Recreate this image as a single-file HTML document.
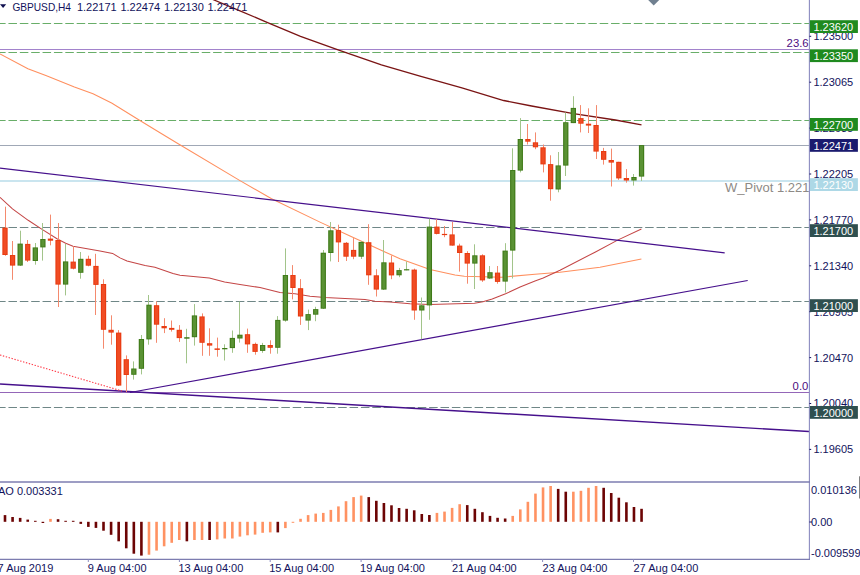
<!DOCTYPE html>
<html><head><meta charset="utf-8"><style>
html,body{margin:0;padding:0;background:#fff;width:860px;height:575px;overflow:hidden}
svg{display:block;font-family:"Liberation Sans",sans-serif}
</style></head><body>
<svg width="860" height="575" viewBox="0 0 860 575">
<rect width="860" height="575" fill="#fff"/>
<line x1="0" y1="23.5" x2="809" y2="23.5" stroke="#68ae68" stroke-width="1" stroke-dasharray="8.53 2.84" stroke-dashoffset="2.92"/>
<line x1="0" y1="52.5" x2="809" y2="52.5" stroke="#68ae68" stroke-width="1" stroke-dasharray="8.53 2.84" stroke-dashoffset="2.92"/>
<line x1="0" y1="120.5" x2="809" y2="120.5" stroke="#68ae68" stroke-width="1" stroke-dasharray="8.53 2.84" stroke-dashoffset="2.92"/>
<line x1="0" y1="49.5" x2="809" y2="49.5" stroke="#a283cc" stroke-width="1"/>
<line x1="0" y1="145.5" x2="809" y2="145.5" stroke="#a0a8b6" stroke-width="1"/>
<line x1="0" y1="181" x2="809" y2="181" stroke="#b9dcea" stroke-width="1.3"/>
<line x1="0" y1="227.5" x2="809" y2="227.5" stroke="#6f8787" stroke-width="1" stroke-dasharray="8.53 2.84" stroke-dashoffset="2.92"/>
<line x1="0" y1="301.5" x2="809" y2="301.5" stroke="#6f8787" stroke-width="1" stroke-dasharray="8.53 2.84" stroke-dashoffset="2.92"/>
<line x1="0" y1="407.5" x2="809" y2="407.5" stroke="#6f8787" stroke-width="1" stroke-dasharray="8.53 2.84" stroke-dashoffset="2.92"/>
<line x1="0" y1="392.5" x2="809" y2="392.5" stroke="#9466b8" stroke-width="1"/>
<text x="786.6" y="47" font-size="11.3" fill="#4c0c80">23.6</text>
<text x="792.6" y="390.3" font-size="11.3" fill="#4c0c80">0.0</text>
<text x="725" y="191.5" font-size="13" fill="#8e8a86">W_Pivot 1.22130</text>
<polyline points="0.0,53.9 27.9,68.8 46.5,75.7 74.4,86.9 93.0,93.7 111.6,103.0 139.5,120.3 160.0,132.8 178.6,144.0 240.0,180.6 271.6,198.8 320.0,222.1 350.0,236.0 385.0,252.0 400.0,258.7 430.0,269.6 455.0,274.9 464.3,276.3 501.5,277.2 535.0,274.2 560.0,272.3 600.0,267.2 641.4,259.1" fill="none" stroke="#ff8f5e" stroke-width="1.05"/>
<polyline points="0.0,197.3 12.5,208.8 28.2,220.3 41.7,229.1 57.4,239.0 65.7,243.2 73.0,246.2 100.0,251.1 112.6,253.4 120.0,257.9 127.0,260.9 145.1,265.4 154.9,267.2 173.0,273.5 180.0,275.2 206.5,277.7 209.3,278.0 224.6,282.1 240.0,284.4 260.0,287.6 280.0,292.5 295.0,293.8 310.0,296.3 325.0,297.6 350.0,298.7 365.0,299.4 375.0,301.2 390.0,302.0 410.0,303.8 430.0,304.5 474.5,303.2 482.9,301.8 492.2,299.1 506.2,293.5 520.1,287.0 535.0,280.9 543.2,278.1 560.0,270.2 595.0,252.2 617.6,240.1 641.4,229.0" fill="none" stroke="#c44646" stroke-width="1.05"/>
<polyline points="211.0,-1.5 214.0,0.0 240.0,10.8 267.0,22.3 300.5,36.3 339.5,50.3 381.4,64.8 420.0,76.2 461.9,87.9 503.7,100.5 531.6,106.0 573.5,113.6 615.4,120.0 641.5,124.8" fill="none" stroke="#7a1414" stroke-width="1.3"/>
<line x1="0" y1="168.1" x2="724.7" y2="252.8" stroke="#46108c" stroke-width="1.2"/>
<line x1="130" y1="392.5" x2="747.7" y2="280.5" stroke="#46108c" stroke-width="1.2"/>
<line x1="0" y1="384" x2="809" y2="431.5" stroke="#46108c" stroke-width="1.45"/>
<line x1="0" y1="355" x2="122" y2="391" stroke="#ff3a48" stroke-width="1.1" stroke-dasharray="1.4 1.6"/>
<line x1="5.50" y1="206.7" x2="5.50" y2="255.8" stroke="#f48a6e" stroke-width="1"/>
<rect x="2.35" y="227.6" width="5.3" height="27.4" fill="#e83a10"/>
<rect x="3.45" y="228.5" width="3.1" height="25.6" fill="#f04c24"/>
<line x1="12.50" y1="241.0" x2="12.50" y2="279.8" stroke="#f48a6e" stroke-width="1"/>
<rect x="9.93" y="255.0" width="5.3" height="10.6" fill="#e83a10"/>
<rect x="11.03" y="255.9" width="3.1" height="8.8" fill="#f04c24"/>
<line x1="20.50" y1="230.7" x2="20.50" y2="266.0" stroke="#a2c48a" stroke-width="1"/>
<rect x="17.51" y="243.6" width="5.3" height="22.0" fill="#3f7a18"/>
<rect x="18.61" y="244.5" width="3.1" height="20.2" fill="#5a9234"/>
<line x1="27.50" y1="240.0" x2="27.50" y2="262.0" stroke="#f48a6e" stroke-width="1"/>
<rect x="25.08" y="243.9" width="5.3" height="16.7" fill="#e83a10"/>
<rect x="26.18" y="244.8" width="3.1" height="14.9" fill="#f04c24"/>
<line x1="35.50" y1="243.0" x2="35.50" y2="264.7" stroke="#a2c48a" stroke-width="1"/>
<rect x="32.66" y="247.4" width="5.3" height="13.6" fill="#3f7a18"/>
<rect x="33.76" y="248.3" width="3.1" height="11.8" fill="#5a9234"/>
<line x1="42.50" y1="223.0" x2="42.50" y2="260.6" stroke="#a2c48a" stroke-width="1"/>
<rect x="40.24" y="239.0" width="5.3" height="8.4" fill="#3f7a18"/>
<rect x="41.34" y="239.9" width="3.1" height="6.6" fill="#5a9234"/>
<line x1="50.50" y1="214.6" x2="50.50" y2="245.3" stroke="#f48a6e" stroke-width="1"/>
<rect x="47.82" y="238.6" width="5.3" height="2.1" fill="#e83a10"/>
<line x1="58.50" y1="223.0" x2="58.50" y2="307.0" stroke="#f48a6e" stroke-width="1"/>
<rect x="55.40" y="240.0" width="5.3" height="44.6" fill="#e83a10"/>
<rect x="56.50" y="240.9" width="3.1" height="42.8" fill="#f04c24"/>
<line x1="65.50" y1="243.9" x2="65.50" y2="295.4" stroke="#a2c48a" stroke-width="1"/>
<rect x="62.97" y="261.4" width="5.3" height="23.2" fill="#3f7a18"/>
<rect x="64.07" y="262.3" width="3.1" height="21.4" fill="#5a9234"/>
<line x1="73.50" y1="246.4" x2="73.50" y2="269.4" stroke="#f48a6e" stroke-width="1"/>
<rect x="70.55" y="261.6" width="5.3" height="7.1" fill="#e83a10"/>
<rect x="71.65" y="262.5" width="3.1" height="5.3" fill="#f04c24"/>
<line x1="80.50" y1="252.0" x2="80.50" y2="278.7" stroke="#a2c48a" stroke-width="1"/>
<rect x="78.13" y="258.8" width="5.3" height="14.0" fill="#3f7a18"/>
<rect x="79.23" y="259.7" width="3.1" height="12.2" fill="#5a9234"/>
<line x1="88.50" y1="255.7" x2="88.50" y2="266.3" stroke="#f48a6e" stroke-width="1"/>
<rect x="85.71" y="258.8" width="5.3" height="6.9" fill="#e83a10"/>
<rect x="86.81" y="259.7" width="3.1" height="5.1" fill="#f04c24"/>
<line x1="95.50" y1="253.8" x2="95.50" y2="315.0" stroke="#f48a6e" stroke-width="1"/>
<rect x="93.29" y="265.9" width="5.3" height="19.0" fill="#e83a10"/>
<rect x="94.39" y="266.8" width="3.1" height="17.2" fill="#f04c24"/>
<line x1="103.50" y1="279.3" x2="103.50" y2="348.7" stroke="#f48a6e" stroke-width="1"/>
<rect x="100.86" y="284.0" width="5.3" height="45.8" fill="#e83a10"/>
<rect x="101.96" y="284.9" width="3.1" height="44.0" fill="#f04c24"/>
<line x1="111.50" y1="315.3" x2="111.50" y2="344.7" stroke="#f48a6e" stroke-width="1"/>
<rect x="108.44" y="329.8" width="5.3" height="2.8" fill="#e83a10"/>
<rect x="109.54" y="330.7" width="3.1" height="1.0" fill="#f04c24"/>
<line x1="118.50" y1="330.1" x2="118.50" y2="386.0" stroke="#f48a6e" stroke-width="1"/>
<rect x="116.02" y="332.6" width="5.3" height="53.0" fill="#e83a10"/>
<rect x="117.12" y="333.5" width="3.1" height="51.2" fill="#f04c24"/>
<line x1="126.50" y1="355.4" x2="126.50" y2="392.1" stroke="#f48a6e" stroke-width="1"/>
<rect x="123.60" y="359.2" width="5.3" height="15.8" fill="#e83a10"/>
<rect x="124.70" y="360.1" width="3.1" height="14.0" fill="#f04c24"/>
<line x1="133.50" y1="361.4" x2="133.50" y2="379.6" stroke="#a2c48a" stroke-width="1"/>
<rect x="131.18" y="368.5" width="5.3" height="6.3" fill="#3f7a18"/>
<rect x="132.28" y="369.4" width="3.1" height="4.5" fill="#5a9234"/>
<line x1="141.50" y1="335.0" x2="141.50" y2="374.4" stroke="#a2c48a" stroke-width="1"/>
<rect x="138.75" y="339.0" width="5.3" height="29.8" fill="#3f7a18"/>
<rect x="139.85" y="339.9" width="3.1" height="28.0" fill="#5a9234"/>
<line x1="148.50" y1="295.0" x2="148.50" y2="344.7" stroke="#a2c48a" stroke-width="1"/>
<rect x="146.33" y="304.7" width="5.3" height="34.7" fill="#3f7a18"/>
<rect x="147.43" y="305.6" width="3.1" height="32.9" fill="#5a9234"/>
<line x1="156.50" y1="301.5" x2="156.50" y2="342.8" stroke="#f48a6e" stroke-width="1"/>
<rect x="153.91" y="305.2" width="5.3" height="19.5" fill="#e83a10"/>
<rect x="155.01" y="306.1" width="3.1" height="17.7" fill="#f04c24"/>
<line x1="164.50" y1="318.2" x2="164.50" y2="333.1" stroke="#f48a6e" stroke-width="1"/>
<rect x="161.49" y="326.0" width="5.3" height="2.3" fill="#e83a10"/>
<line x1="171.50" y1="320.5" x2="171.50" y2="331.6" stroke="#f48a6e" stroke-width="1"/>
<rect x="169.07" y="327.9" width="5.3" height="1.9" fill="#e83a10"/>
<line x1="179.50" y1="325.1" x2="179.50" y2="341.9" stroke="#f48a6e" stroke-width="1"/>
<rect x="176.64" y="329.8" width="5.3" height="8.3" fill="#e83a10"/>
<rect x="177.74" y="330.7" width="3.1" height="6.5" fill="#f04c24"/>
<line x1="186.50" y1="328.8" x2="186.50" y2="363.3" stroke="#a2c48a" stroke-width="1"/>
<rect x="184.22" y="337.2" width="5.3" height="1.5" fill="#3f7a18"/>
<line x1="194.50" y1="304.1" x2="194.50" y2="345.6" stroke="#a2c48a" stroke-width="1"/>
<rect x="191.80" y="315.4" width="5.3" height="21.8" fill="#3f7a18"/>
<rect x="192.90" y="316.3" width="3.1" height="20.0" fill="#5a9234"/>
<line x1="202.50" y1="313.4" x2="202.50" y2="355.8" stroke="#f48a6e" stroke-width="1"/>
<rect x="199.38" y="316.4" width="5.3" height="26.4" fill="#e83a10"/>
<rect x="200.48" y="317.3" width="3.1" height="24.6" fill="#f04c24"/>
<line x1="209.50" y1="328.3" x2="209.50" y2="355.8" stroke="#f48a6e" stroke-width="1"/>
<rect x="206.96" y="343.2" width="5.3" height="2.4" fill="#e83a10"/>
<rect x="208.06" y="344.1" width="3.1" height="0.6" fill="#f04c24"/>
<line x1="217.50" y1="337.6" x2="217.50" y2="356.7" stroke="#f48a6e" stroke-width="1"/>
<rect x="214.53" y="348.4" width="5.3" height="1.5" fill="#e83a10"/>
<line x1="224.50" y1="344.3" x2="224.50" y2="360.5" stroke="#a2c48a" stroke-width="1"/>
<rect x="222.11" y="348.0" width="5.3" height="1.3" fill="#3f7a18"/>
<line x1="232.50" y1="330.5" x2="232.50" y2="352.8" stroke="#a2c48a" stroke-width="1"/>
<rect x="229.69" y="337.9" width="5.3" height="10.2" fill="#3f7a18"/>
<rect x="230.79" y="338.8" width="3.1" height="8.4" fill="#5a9234"/>
<line x1="239.50" y1="301.6" x2="239.50" y2="342.6" stroke="#a2c48a" stroke-width="1"/>
<rect x="237.27" y="334.7" width="5.3" height="3.8" fill="#3f7a18"/>
<rect x="238.37" y="335.6" width="3.1" height="2.0" fill="#5a9234"/>
<line x1="247.50" y1="328.6" x2="247.50" y2="352.8" stroke="#f48a6e" stroke-width="1"/>
<rect x="244.85" y="334.2" width="5.3" height="10.2" fill="#e83a10"/>
<rect x="245.95" y="335.1" width="3.1" height="8.4" fill="#f04c24"/>
<line x1="255.50" y1="342.6" x2="255.50" y2="354.7" stroke="#f48a6e" stroke-width="1"/>
<rect x="252.42" y="343.9" width="5.3" height="8.0" fill="#e83a10"/>
<rect x="253.52" y="344.8" width="3.1" height="6.2" fill="#f04c24"/>
<line x1="262.50" y1="342.9" x2="262.50" y2="352.8" stroke="#a2c48a" stroke-width="1"/>
<rect x="260.00" y="345.0" width="5.3" height="5.9" fill="#3f7a18"/>
<rect x="261.10" y="345.9" width="3.1" height="4.1" fill="#5a9234"/>
<line x1="270.50" y1="340.3" x2="270.50" y2="353.7" stroke="#f48a6e" stroke-width="1"/>
<rect x="267.58" y="345.0" width="5.3" height="2.8" fill="#e83a10"/>
<rect x="268.68" y="345.9" width="3.1" height="1.0" fill="#f04c24"/>
<line x1="277.50" y1="316.1" x2="277.50" y2="353.7" stroke="#a2c48a" stroke-width="1"/>
<rect x="275.16" y="319.9" width="5.3" height="27.9" fill="#3f7a18"/>
<rect x="276.26" y="320.8" width="3.1" height="26.1" fill="#5a9234"/>
<line x1="285.50" y1="248.4" x2="285.50" y2="321.7" stroke="#a2c48a" stroke-width="1"/>
<rect x="282.74" y="275.0" width="5.3" height="45.6" fill="#3f7a18"/>
<rect x="283.84" y="275.9" width="3.1" height="43.8" fill="#5a9234"/>
<line x1="292.50" y1="265.1" x2="292.50" y2="299.4" stroke="#f48a6e" stroke-width="1"/>
<rect x="290.31" y="275.0" width="5.3" height="13.0" fill="#e83a10"/>
<rect x="291.41" y="275.9" width="3.1" height="11.2" fill="#f04c24"/>
<line x1="300.50" y1="279.1" x2="300.50" y2="324.9" stroke="#f48a6e" stroke-width="1"/>
<rect x="297.89" y="288.2" width="5.3" height="28.3" fill="#e83a10"/>
<rect x="298.99" y="289.1" width="3.1" height="26.5" fill="#f04c24"/>
<line x1="308.50" y1="309.6" x2="308.50" y2="330.1" stroke="#a2c48a" stroke-width="1"/>
<rect x="305.47" y="314.1" width="5.3" height="6.5" fill="#3f7a18"/>
<rect x="306.57" y="315.0" width="3.1" height="4.7" fill="#5a9234"/>
<line x1="315.50" y1="306.8" x2="315.50" y2="321.2" stroke="#a2c48a" stroke-width="1"/>
<rect x="313.05" y="309.1" width="5.3" height="5.6" fill="#3f7a18"/>
<rect x="314.15" y="310.0" width="3.1" height="3.8" fill="#5a9234"/>
<line x1="323.50" y1="250.0" x2="323.50" y2="309.0" stroke="#a2c48a" stroke-width="1"/>
<rect x="320.63" y="252.7" width="5.3" height="56.0" fill="#3f7a18"/>
<rect x="321.73" y="253.6" width="3.1" height="54.2" fill="#5a9234"/>
<line x1="330.50" y1="222.0" x2="330.50" y2="261.4" stroke="#a2c48a" stroke-width="1"/>
<rect x="328.20" y="230.3" width="5.3" height="22.7" fill="#3f7a18"/>
<rect x="329.30" y="231.2" width="3.1" height="20.9" fill="#5a9234"/>
<line x1="338.50" y1="224.7" x2="338.50" y2="262.0" stroke="#f48a6e" stroke-width="1"/>
<rect x="335.78" y="230.1" width="5.3" height="12.3" fill="#e83a10"/>
<rect x="336.88" y="231.0" width="3.1" height="10.5" fill="#f04c24"/>
<line x1="346.50" y1="242.0" x2="346.50" y2="261.0" stroke="#f48a6e" stroke-width="1"/>
<rect x="343.36" y="242.8" width="5.3" height="13.9" fill="#e83a10"/>
<rect x="344.46" y="243.7" width="3.1" height="12.1" fill="#f04c24"/>
<line x1="353.50" y1="238.1" x2="353.50" y2="259.2" stroke="#f48a6e" stroke-width="1"/>
<rect x="350.94" y="249.9" width="5.3" height="6.8" fill="#e83a10"/>
<rect x="352.04" y="250.8" width="3.1" height="5.0" fill="#f04c24"/>
<line x1="361.50" y1="241.0" x2="361.50" y2="259.0" stroke="#a2c48a" stroke-width="1"/>
<rect x="358.52" y="241.9" width="5.3" height="14.8" fill="#3f7a18"/>
<rect x="359.62" y="242.8" width="3.1" height="13.0" fill="#5a9234"/>
<line x1="368.50" y1="224.2" x2="368.50" y2="284.8" stroke="#f48a6e" stroke-width="1"/>
<rect x="366.09" y="242.2" width="5.3" height="33.1" fill="#e83a10"/>
<rect x="367.19" y="243.1" width="3.1" height="31.3" fill="#f04c24"/>
<line x1="376.50" y1="269.2" x2="376.50" y2="296.5" stroke="#f48a6e" stroke-width="1"/>
<rect x="373.67" y="275.3" width="5.3" height="14.3" fill="#e83a10"/>
<rect x="374.77" y="276.2" width="3.1" height="12.5" fill="#f04c24"/>
<line x1="383.50" y1="240.0" x2="383.50" y2="290.0" stroke="#a2c48a" stroke-width="1"/>
<rect x="381.25" y="262.3" width="5.3" height="27.3" fill="#3f7a18"/>
<rect x="382.35" y="263.2" width="3.1" height="25.5" fill="#5a9234"/>
<line x1="391.50" y1="255.5" x2="391.50" y2="279.2" stroke="#f48a6e" stroke-width="1"/>
<rect x="388.83" y="262.5" width="5.3" height="12.9" fill="#e83a10"/>
<rect x="389.93" y="263.4" width="3.1" height="11.1" fill="#f04c24"/>
<line x1="399.50" y1="267.9" x2="399.50" y2="277.2" stroke="#a2c48a" stroke-width="1"/>
<rect x="396.41" y="270.1" width="5.3" height="5.2" fill="#3f7a18"/>
<rect x="397.51" y="271.0" width="3.1" height="3.4" fill="#5a9234"/>
<line x1="406.50" y1="261.4" x2="406.50" y2="270.3" stroke="#a2c48a" stroke-width="1"/>
<rect x="403.98" y="269.2" width="5.3" height="1.2" fill="#3f7a18"/>
<line x1="414.50" y1="268.6" x2="414.50" y2="319.8" stroke="#f48a6e" stroke-width="1"/>
<rect x="411.56" y="269.6" width="5.3" height="40.9" fill="#e83a10"/>
<rect x="412.66" y="270.5" width="3.1" height="39.1" fill="#f04c24"/>
<line x1="421.50" y1="297.5" x2="421.50" y2="339.3" stroke="#a2c48a" stroke-width="1"/>
<rect x="419.14" y="305.3" width="5.3" height="5.2" fill="#3f7a18"/>
<rect x="420.24" y="306.2" width="3.1" height="3.4" fill="#5a9234"/>
<line x1="429.50" y1="218.6" x2="429.50" y2="319.8" stroke="#a2c48a" stroke-width="1"/>
<rect x="426.72" y="226.6" width="5.3" height="78.8" fill="#3f7a18"/>
<rect x="427.82" y="227.5" width="3.1" height="77.0" fill="#5a9234"/>
<line x1="436.50" y1="219.2" x2="436.50" y2="234.4" stroke="#f48a6e" stroke-width="1"/>
<rect x="434.30" y="226.6" width="5.3" height="7.3" fill="#e83a10"/>
<rect x="435.40" y="227.5" width="3.1" height="5.5" fill="#f04c24"/>
<line x1="444.50" y1="226.0" x2="444.50" y2="237.2" stroke="#f48a6e" stroke-width="1"/>
<rect x="441.87" y="233.9" width="5.3" height="1.2" fill="#e83a10"/>
<line x1="452.50" y1="222.0" x2="452.50" y2="245.6" stroke="#f48a6e" stroke-width="1"/>
<rect x="449.45" y="234.4" width="5.3" height="11.2" fill="#e83a10"/>
<rect x="450.55" y="235.3" width="3.1" height="9.4" fill="#f04c24"/>
<line x1="459.50" y1="243.7" x2="459.50" y2="271.6" stroke="#f48a6e" stroke-width="1"/>
<rect x="457.03" y="245.6" width="5.3" height="7.4" fill="#e83a10"/>
<rect x="458.13" y="246.5" width="3.1" height="5.6" fill="#f04c24"/>
<line x1="467.50" y1="251.2" x2="467.50" y2="283.7" stroke="#f48a6e" stroke-width="1"/>
<rect x="464.61" y="253.0" width="5.3" height="10.6" fill="#e83a10"/>
<rect x="465.71" y="253.9" width="3.1" height="8.8" fill="#f04c24"/>
<line x1="474.50" y1="244.3" x2="474.50" y2="289.0" stroke="#a2c48a" stroke-width="1"/>
<rect x="472.19" y="255.3" width="5.3" height="8.3" fill="#3f7a18"/>
<rect x="473.29" y="256.2" width="3.1" height="6.5" fill="#5a9234"/>
<line x1="482.50" y1="254.3" x2="482.50" y2="281.9" stroke="#f48a6e" stroke-width="1"/>
<rect x="479.76" y="255.3" width="5.3" height="25.1" fill="#e83a10"/>
<rect x="480.86" y="256.2" width="3.1" height="23.3" fill="#f04c24"/>
<line x1="489.50" y1="266.0" x2="489.50" y2="279.0" stroke="#a2c48a" stroke-width="1"/>
<rect x="487.34" y="272.2" width="5.3" height="6.3" fill="#3f7a18"/>
<rect x="488.44" y="273.1" width="3.1" height="4.5" fill="#5a9234"/>
<line x1="497.50" y1="266.0" x2="497.50" y2="283.7" stroke="#f48a6e" stroke-width="1"/>
<rect x="494.92" y="272.6" width="5.3" height="9.3" fill="#e83a10"/>
<rect x="496.02" y="273.5" width="3.1" height="7.5" fill="#f04c24"/>
<line x1="505.50" y1="243.2" x2="505.50" y2="292.5" stroke="#a2c48a" stroke-width="1"/>
<rect x="502.50" y="250.6" width="5.3" height="31.0" fill="#3f7a18"/>
<rect x="503.60" y="251.5" width="3.1" height="29.2" fill="#5a9234"/>
<line x1="512.50" y1="148.3" x2="512.50" y2="278.5" stroke="#a2c48a" stroke-width="1"/>
<rect x="510.08" y="170.0" width="5.3" height="80.6" fill="#3f7a18"/>
<rect x="511.18" y="170.9" width="3.1" height="78.8" fill="#5a9234"/>
<line x1="520.50" y1="118.1" x2="520.50" y2="172.4" stroke="#a2c48a" stroke-width="1"/>
<rect x="517.65" y="139.0" width="5.3" height="31.6" fill="#3f7a18"/>
<rect x="518.75" y="139.9" width="3.1" height="29.8" fill="#5a9234"/>
<line x1="527.50" y1="124.0" x2="527.50" y2="144.5" stroke="#f48a6e" stroke-width="1"/>
<rect x="525.23" y="139.0" width="5.3" height="2.7" fill="#e83a10"/>
<rect x="526.33" y="139.9" width="3.1" height="0.9" fill="#f04c24"/>
<line x1="535.50" y1="132.4" x2="535.50" y2="149.2" stroke="#f48a6e" stroke-width="1"/>
<rect x="532.81" y="142.3" width="5.3" height="5.0" fill="#e83a10"/>
<rect x="533.91" y="143.2" width="3.1" height="3.2" fill="#f04c24"/>
<line x1="543.50" y1="144.5" x2="543.50" y2="172.4" stroke="#f48a6e" stroke-width="1"/>
<rect x="540.39" y="147.3" width="5.3" height="17.1" fill="#e83a10"/>
<rect x="541.49" y="148.2" width="3.1" height="15.3" fill="#f04c24"/>
<line x1="550.50" y1="155.3" x2="550.50" y2="200.7" stroke="#f48a6e" stroke-width="1"/>
<rect x="547.97" y="164.1" width="5.3" height="25.1" fill="#e83a10"/>
<rect x="549.07" y="165.0" width="3.1" height="23.3" fill="#f04c24"/>
<line x1="558.50" y1="152.0" x2="558.50" y2="192.3" stroke="#a2c48a" stroke-width="1"/>
<rect x="555.54" y="165.4" width="5.3" height="24.1" fill="#3f7a18"/>
<rect x="556.64" y="166.3" width="3.1" height="22.3" fill="#5a9234"/>
<line x1="565.50" y1="112.5" x2="565.50" y2="176.0" stroke="#a2c48a" stroke-width="1"/>
<rect x="563.12" y="122.2" width="5.3" height="43.4" fill="#3f7a18"/>
<rect x="564.22" y="123.1" width="3.1" height="41.6" fill="#5a9234"/>
<line x1="573.50" y1="96.2" x2="573.50" y2="123.1" stroke="#a2c48a" stroke-width="1"/>
<rect x="570.70" y="107.9" width="5.3" height="15.2" fill="#3f7a18"/>
<rect x="571.80" y="108.8" width="3.1" height="13.4" fill="#5a9234"/>
<line x1="580.50" y1="105.1" x2="580.50" y2="132.4" stroke="#f48a6e" stroke-width="1"/>
<rect x="578.28" y="118.1" width="5.3" height="5.6" fill="#e83a10"/>
<rect x="579.38" y="119.0" width="3.1" height="3.8" fill="#f04c24"/>
<line x1="588.50" y1="108.3" x2="588.50" y2="133.0" stroke="#f48a6e" stroke-width="1"/>
<rect x="585.86" y="123.7" width="5.3" height="1.9" fill="#e83a10"/>
<line x1="596.50" y1="105.1" x2="596.50" y2="159.0" stroke="#f48a6e" stroke-width="1"/>
<rect x="593.43" y="125.0" width="5.3" height="26.6" fill="#e83a10"/>
<rect x="594.53" y="125.9" width="3.1" height="24.8" fill="#f04c24"/>
<line x1="603.50" y1="147.9" x2="603.50" y2="164.6" stroke="#f48a6e" stroke-width="1"/>
<rect x="601.01" y="151.0" width="5.3" height="8.8" fill="#e83a10"/>
<rect x="602.11" y="151.9" width="3.1" height="7.0" fill="#f04c24"/>
<line x1="611.50" y1="148.6" x2="611.50" y2="186.5" stroke="#f48a6e" stroke-width="1"/>
<rect x="608.59" y="160.0" width="5.3" height="2.6" fill="#e83a10"/>
<rect x="609.69" y="160.9" width="3.1" height="0.8" fill="#f04c24"/>
<line x1="618.50" y1="161.8" x2="618.50" y2="179.9" stroke="#f48a6e" stroke-width="1"/>
<rect x="616.17" y="161.8" width="5.3" height="16.6" fill="#e83a10"/>
<rect x="617.27" y="162.7" width="3.1" height="14.8" fill="#f04c24"/>
<line x1="626.50" y1="169.1" x2="626.50" y2="182.7" stroke="#f48a6e" stroke-width="1"/>
<rect x="623.75" y="178.0" width="5.3" height="2.5" fill="#e83a10"/>
<rect x="624.85" y="178.9" width="3.1" height="0.7" fill="#f04c24"/>
<line x1="633.50" y1="174.0" x2="633.50" y2="185.6" stroke="#a2c48a" stroke-width="1"/>
<rect x="631.32" y="177.0" width="5.3" height="3.5" fill="#3f7a18"/>
<rect x="632.42" y="177.9" width="3.1" height="1.7" fill="#5a9234"/>
<line x1="641.50" y1="145.1" x2="641.50" y2="181.0" stroke="#a2c48a" stroke-width="1"/>
<rect x="638.90" y="145.1" width="5.3" height="31.5" fill="#3f7a18"/>
<rect x="640.00" y="146.0" width="3.1" height="29.7" fill="#5a9234"/>
<rect x="809" y="0" width="51" height="575" fill="#fff"/>
<line x1="809.4" y1="0" x2="809.4" y2="559.4" stroke="#8c8cc0" stroke-width="1.1"/>
<line x1="0" y1="481.9" x2="810" y2="481.9" stroke="#7c7cb0" stroke-width="1.45"/>
<line x1="0" y1="559.4" x2="810" y2="559.4" stroke="#7c7cb0" stroke-width="1.4"/>
<line x1="809.4" y1="36.3" x2="811.2" y2="36.3" stroke="#12125c" stroke-width="1"/>
<text x="813.4" y="40.2" font-size="11" fill="#12125c">1.23500</text>
<line x1="809.4" y1="82.2" x2="811.2" y2="82.2" stroke="#12125c" stroke-width="1"/>
<text x="813.4" y="86.1" font-size="11" fill="#12125c">1.23065</text>
<line x1="809.4" y1="128.1" x2="811.2" y2="128.1" stroke="#12125c" stroke-width="1"/>
<text x="813.4" y="132.0" font-size="11" fill="#12125c">1.22635</text>
<line x1="809.4" y1="174.0" x2="811.2" y2="174.0" stroke="#12125c" stroke-width="1"/>
<text x="813.4" y="177.9" font-size="11" fill="#12125c">1.22205</text>
<line x1="809.4" y1="219.9" x2="811.2" y2="219.9" stroke="#12125c" stroke-width="1"/>
<text x="813.4" y="223.8" font-size="11" fill="#12125c">1.21770</text>
<line x1="809.4" y1="265.8" x2="811.2" y2="265.8" stroke="#12125c" stroke-width="1"/>
<text x="813.4" y="269.7" font-size="11" fill="#12125c">1.21340</text>
<line x1="809.4" y1="311.7" x2="811.2" y2="311.7" stroke="#12125c" stroke-width="1"/>
<text x="813.4" y="315.6" font-size="11" fill="#12125c">1.20905</text>
<line x1="809.4" y1="357.6" x2="811.2" y2="357.6" stroke="#12125c" stroke-width="1"/>
<text x="813.4" y="361.5" font-size="11" fill="#12125c">1.20470</text>
<line x1="809.4" y1="403.5" x2="811.2" y2="403.5" stroke="#12125c" stroke-width="1"/>
<text x="813.4" y="407.4" font-size="11" fill="#12125c">1.20040</text>
<line x1="809.4" y1="449.4" x2="811.2" y2="449.4" stroke="#12125c" stroke-width="1"/>
<text x="813.4" y="453.3" font-size="11" fill="#12125c">1.19605</text>
<rect x="809.9" y="20.2" width="48" height="12.8" fill="#1f8a1f"/>
<text x="813.4" y="31.2" font-size="11" fill="#ffffff">1.23620</text>
<rect x="809.9" y="49.3" width="48" height="12.8" fill="#1f8a1f"/>
<text x="813.4" y="60.3" font-size="11" fill="#ffffff">1.23350</text>
<rect x="809.9" y="118.0" width="48" height="12.8" fill="#1f8a1f"/>
<text x="813.4" y="129.0" font-size="11" fill="#ffffff">1.22700</text>
<rect x="809.9" y="139.0" width="48" height="12.8" fill="#1a1a6e"/>
<text x="813.4" y="150.0" font-size="11" fill="#ffffff">1.22471</text>
<rect x="809.9" y="178.2" width="48" height="12.8" fill="#add8e6"/>
<text x="813.4" y="189.2" font-size="11" fill="#ffffff">1.22130</text>
<rect x="809.9" y="224.2" width="48" height="12.8" fill="#2f4f4f"/>
<text x="813.4" y="235.2" font-size="11" fill="#ffffff">1.21700</text>
<rect x="809.9" y="299.2" width="48" height="12.8" fill="#2f4f4f"/>
<text x="813.4" y="310.2" font-size="11" fill="#ffffff">1.21000</text>
<rect x="809.9" y="406.0" width="48" height="12.8" fill="#2f4f4f"/>
<text x="813.4" y="417.0" font-size="11" fill="#ffffff">1.20000</text>
<text x="811" y="493.6" font-size="11" fill="#12125c">0.010136</text>
<text x="811" y="526.4" font-size="11" fill="#12125c">0.00</text>
<text x="811" y="556.6" font-size="11" fill="#12125c">-0.009599</text>
<line x1="809.4" y1="522" x2="812" y2="522" stroke="#12125c" stroke-width="1"/>
<line x1="859.5" y1="476.3" x2="859.5" y2="498.5" stroke="#808080" stroke-width="1"/>
<text x="-2" y="494.6" font-size="11" fill="#12125c">AO 0.003331</text>
<rect x="3.70" y="515.1" width="2.6" height="6.7" fill="#6c0404"/>
<rect x="11.28" y="517.0" width="2.6" height="4.8" fill="#6c0404"/>
<rect x="18.86" y="517.9" width="2.6" height="3.9" fill="#6c0404"/>
<rect x="26.43" y="519.6" width="2.6" height="2.2" fill="#6c0404"/>
<rect x="34.01" y="520.8" width="2.6" height="1.0" fill="#6c0404"/>
<rect x="41.59" y="521.8" width="2.6" height="1.2" fill="#6c0404"/>
<rect x="49.17" y="518.9" width="2.6" height="2.9" fill="#ff9262"/>
<rect x="56.75" y="519.2" width="2.6" height="2.6" fill="#6c0404"/>
<rect x="64.32" y="520.8" width="2.6" height="1.0" fill="#6c0404"/>
<rect x="71.90" y="520.8" width="2.6" height="1.0" fill="#6c0404"/>
<rect x="79.48" y="521.8" width="2.6" height="2.1" fill="#6c0404"/>
<rect x="87.06" y="521.8" width="2.6" height="5.1" fill="#6c0404"/>
<rect x="94.64" y="521.8" width="2.6" height="6.1" fill="#6c0404"/>
<rect x="102.21" y="521.8" width="2.6" height="8.9" fill="#6c0404"/>
<rect x="109.79" y="521.8" width="2.6" height="13.0" fill="#6c0404"/>
<rect x="117.37" y="521.8" width="2.6" height="19.5" fill="#6c0404"/>
<rect x="124.95" y="521.8" width="2.6" height="26.5" fill="#6c0404"/>
<rect x="132.53" y="521.8" width="2.6" height="31.9" fill="#6c0404"/>
<rect x="140.10" y="521.8" width="2.6" height="33.8" fill="#6c0404"/>
<rect x="147.68" y="521.8" width="2.6" height="32.9" fill="#ff9262"/>
<rect x="155.26" y="521.8" width="2.6" height="28.8" fill="#ff9262"/>
<rect x="162.84" y="521.8" width="2.6" height="24.5" fill="#ff9262"/>
<rect x="170.42" y="521.8" width="2.6" height="21.0" fill="#ff9262"/>
<rect x="177.99" y="521.8" width="2.6" height="18.2" fill="#ff9262"/>
<rect x="185.57" y="521.8" width="2.6" height="19.5" fill="#6c0404"/>
<rect x="193.15" y="521.8" width="2.6" height="18.2" fill="#ff9262"/>
<rect x="200.73" y="521.8" width="2.6" height="18.2" fill="#ff9262"/>
<rect x="208.31" y="521.8" width="2.6" height="18.2" fill="#6c0404"/>
<rect x="215.88" y="521.8" width="2.6" height="17.6" fill="#ff9262"/>
<rect x="223.46" y="521.8" width="2.6" height="16.7" fill="#ff9262"/>
<rect x="231.04" y="521.8" width="2.6" height="16.7" fill="#ff9262"/>
<rect x="238.62" y="521.8" width="2.6" height="14.8" fill="#ff9262"/>
<rect x="246.20" y="521.8" width="2.6" height="13.5" fill="#ff9262"/>
<rect x="253.77" y="521.8" width="2.6" height="12.8" fill="#ff9262"/>
<rect x="261.35" y="521.8" width="2.6" height="11.0" fill="#ff9262"/>
<rect x="268.93" y="521.8" width="2.6" height="10.6" fill="#ff9262"/>
<rect x="276.51" y="521.8" width="2.6" height="10.6" fill="#6c0404"/>
<rect x="284.09" y="521.8" width="2.6" height="6.3" fill="#ff9262"/>
<rect x="291.66" y="521.8" width="2.6" height="1.0" fill="#ff9262"/>
<rect x="299.24" y="518.8" width="2.6" height="3.0" fill="#ff9262"/>
<rect x="306.82" y="515.1" width="2.6" height="6.7" fill="#ff9262"/>
<rect x="314.40" y="513.6" width="2.6" height="8.2" fill="#ff9262"/>
<rect x="321.98" y="512.9" width="2.6" height="8.9" fill="#ff9262"/>
<rect x="329.55" y="509.9" width="2.6" height="11.9" fill="#ff9262"/>
<rect x="337.13" y="506.4" width="2.6" height="15.4" fill="#ff9262"/>
<rect x="344.71" y="501.2" width="2.6" height="20.6" fill="#ff9262"/>
<rect x="352.29" y="497.1" width="2.6" height="24.7" fill="#ff9262"/>
<rect x="359.87" y="495.6" width="2.6" height="26.2" fill="#ff9262"/>
<rect x="367.44" y="497.1" width="2.6" height="24.7" fill="#6c0404"/>
<rect x="375.02" y="500.8" width="2.6" height="21.0" fill="#6c0404"/>
<rect x="382.60" y="503.0" width="2.6" height="18.8" fill="#6c0404"/>
<rect x="390.18" y="505.3" width="2.6" height="16.5" fill="#6c0404"/>
<rect x="397.76" y="508.0" width="2.6" height="13.8" fill="#6c0404"/>
<rect x="405.33" y="508.8" width="2.6" height="13.0" fill="#6c0404"/>
<rect x="412.91" y="510.3" width="2.6" height="11.5" fill="#6c0404"/>
<rect x="420.49" y="514.0" width="2.6" height="7.8" fill="#6c0404"/>
<rect x="428.07" y="515.0" width="2.6" height="6.8" fill="#6c0404"/>
<rect x="435.65" y="512.9" width="2.6" height="8.9" fill="#ff9262"/>
<rect x="443.22" y="511.6" width="2.6" height="10.2" fill="#ff9262"/>
<rect x="450.80" y="507.9" width="2.6" height="13.9" fill="#ff9262"/>
<rect x="458.38" y="504.2" width="2.6" height="17.6" fill="#ff9262"/>
<rect x="465.96" y="505.1" width="2.6" height="16.7" fill="#6c0404"/>
<rect x="473.54" y="508.8" width="2.6" height="13.0" fill="#6c0404"/>
<rect x="481.11" y="512.2" width="2.6" height="9.6" fill="#6c0404"/>
<rect x="488.69" y="515.9" width="2.6" height="5.9" fill="#6c0404"/>
<rect x="496.27" y="517.8" width="2.6" height="4.0" fill="#6c0404"/>
<rect x="503.85" y="518.5" width="2.6" height="3.3" fill="#6c0404"/>
<rect x="511.43" y="515.9" width="2.6" height="5.9" fill="#ff9262"/>
<rect x="519.00" y="509.4" width="2.6" height="12.4" fill="#ff9262"/>
<rect x="526.58" y="501.8" width="2.6" height="20.0" fill="#ff9262"/>
<rect x="534.16" y="493.6" width="2.6" height="28.2" fill="#ff9262"/>
<rect x="541.74" y="487.4" width="2.6" height="34.4" fill="#ff9262"/>
<rect x="549.32" y="486.0" width="2.6" height="35.8" fill="#ff9262"/>
<rect x="556.89" y="488.9" width="2.6" height="32.9" fill="#6c0404"/>
<rect x="564.47" y="491.7" width="2.6" height="30.1" fill="#6c0404"/>
<rect x="572.05" y="491.7" width="2.6" height="30.1" fill="#ff9262"/>
<rect x="579.63" y="490.8" width="2.6" height="31.0" fill="#ff9262"/>
<rect x="587.21" y="487.8" width="2.6" height="34.0" fill="#ff9262"/>
<rect x="594.78" y="486.0" width="2.6" height="35.8" fill="#ff9262"/>
<rect x="602.36" y="487.8" width="2.6" height="34.0" fill="#6c0404"/>
<rect x="609.94" y="493.0" width="2.6" height="28.8" fill="#6c0404"/>
<rect x="617.52" y="497.7" width="2.6" height="24.1" fill="#6c0404"/>
<rect x="625.10" y="502.3" width="2.6" height="19.5" fill="#6c0404"/>
<rect x="632.67" y="507.0" width="2.6" height="14.8" fill="#6c0404"/>
<rect x="640.25" y="508.8" width="2.6" height="13.0" fill="#6c0404"/>
<text x="-2.4" y="572" font-size="11" fill="#12125c">7 Aug 2019</text>
<line x1="88.3" y1="559.4" x2="88.3" y2="562" stroke="#8c8cc0" stroke-width="1"/>
<text x="87.8" y="572" font-size="11" fill="#12125c">9 Aug 04:00</text>
<line x1="179.4" y1="559.4" x2="179.4" y2="562" stroke="#8c8cc0" stroke-width="1"/>
<text x="178.5" y="572" font-size="11" fill="#12125c">13 Aug 04:00</text>
<line x1="270.2" y1="559.4" x2="270.2" y2="562" stroke="#8c8cc0" stroke-width="1"/>
<text x="269.2" y="572" font-size="11" fill="#12125c">15 Aug 04:00</text>
<line x1="361.1" y1="559.4" x2="361.1" y2="562" stroke="#8c8cc0" stroke-width="1"/>
<text x="360.1" y="572" font-size="11" fill="#12125c">19 Aug 04:00</text>
<line x1="451.9" y1="559.4" x2="451.9" y2="562" stroke="#8c8cc0" stroke-width="1"/>
<text x="451.9" y="572" font-size="11" fill="#12125c">21 Aug 04:00</text>
<line x1="542.6" y1="559.4" x2="542.6" y2="562" stroke="#8c8cc0" stroke-width="1"/>
<text x="542.6" y="572" font-size="11" fill="#12125c">23 Aug 04:00</text>
<line x1="633.5" y1="559.4" x2="633.5" y2="562" stroke="#8c8cc0" stroke-width="1"/>
<text x="633.5" y="572" font-size="11" fill="#12125c">27 Aug 04:00</text>
<path d="M648.2 0 L659.2 0 L653.7 5.6 Z" fill="#708090"/>
<path d="M0 4.3 L6.2 4.3 L3.1 7.9 Z" fill="#101050"/>
<text x="12.4" y="11.3" font-size="11" fill="#12125c" textLength="58.6" lengthAdjust="spacingAndGlyphs">GBPUSD,H4</text>
<text x="76.9" y="11.3" font-size="11" fill="#12125c">1.22171</text>
<text x="120.4" y="11.3" font-size="11" fill="#12125c">1.22474</text>
<text x="164.0" y="11.3" font-size="11" fill="#12125c">1.22130</text>
<text x="207.5" y="11.3" font-size="11" fill="#12125c">1.22471</text>
</svg></body></html>
